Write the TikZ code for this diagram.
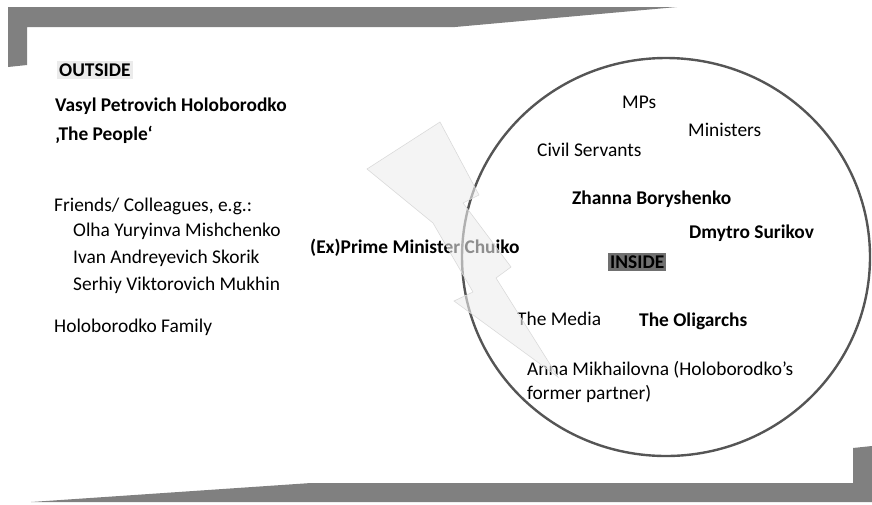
\documentclass[tikz,border=0pt]{standalone}
\usepackage{fontspec}
\setmainfont{Carlito}
\definecolor{bar}{HTML}{808080}
\definecolor{ring}{HTML}{555555}
\definecolor{boltfill}{HTML}{EDEDED}
\definecolor{boltline}{HTML}{DADADA}
\definecolor{outbg}{HTML}{EBEBEB}
\definecolor{inbg}{HTML}{707070}
\begin{document}
\begin{tikzpicture}[x=1pt,y=-1pt,
  lbl/.style={anchor=west,inner sep=0pt,font=\fontsize{19.4}{22}\selectfont},
  blbl/.style={lbl,font=\fontsize{19.4}{22}\selectfont\bfseries}]
\useasboundingbox (0,0) rectangle (872,504);
% frame bars
\fill[bar] (8,7) -- (677,7) -- (455,27) -- (27,27) -- (27,65) -- (8,67) -- cycle;
\fill[bar] (31,502) -- (311,483) -- (853,483) -- (853,448) -- (872,446) -- (872,502) -- cycle;
% circle
\draw[ring,line width=2.4pt] (666,257) ellipse [x radius=204, y radius=199];
% outside texts
\node[blbl,fill=outbg,inner xsep=2pt,inner ysep=3pt] (out) at (57,70) {OUTSIDE};
\node[blbl] (vasyl) at (55,106) {Vasyl Petrovich Holoborodko};
\node[blbl] (people) at (55,135) {‚The People‘};
\node[lbl] (friends) at (54,206) {Friends/ Colleagues, e.g.:};
\node[lbl] (olha) at (73,231) {Olha Yuryinva Mishchenko};
\node[lbl] (ivan) at (73,258) {Ivan Andreyevich Skorik};
\node[lbl] (serhiy) at (73,285) {Serhiy Viktorovich Mukhin};
\node[lbl] (family) at (54,327) {Holoborodko Family};
\node[blbl] (pm) at (310,248) {(Ex)Prime Minister Chuiko};
% inside texts
\node[lbl] (mps) at (622,102) {MPs};
\node[lbl] (min) at (688,130) {Ministers};
\node[lbl] (civil) at (537,150) {Civil Servants};
\node[blbl] (zhanna) at (572,199) {Zhanna Boryshenko};
\node[blbl] (dmytro) at (689,233) {Dmytro Surikov};
\node[blbl,fill=inbg,inner xsep=2pt,inner ysep=3pt] (in) at (608,262) {INSIDE};
\node[lbl] (media) at (517,319) {The Media};
\node[blbl] (olig) at (639,321) {The Oligarchs};
\node[lbl] (anna) at (527,370) {Anna Mikhailovna (Holoborodko’s};
\node[lbl] (anna2) at (527,394) {former partner)};
% lightning bolt
\filldraw[fill=boltfill,fill opacity=0.6,draw=boltline,line width=0.6pt]
  (440,122) -- (479,195) -- (463,203) -- (511,267) -- (496,278) -- (558,377)
  -- (454,301) -- (473,292) -- (433,223) -- (367,169) -- cycle;
\end{tikzpicture}
\end{document}
